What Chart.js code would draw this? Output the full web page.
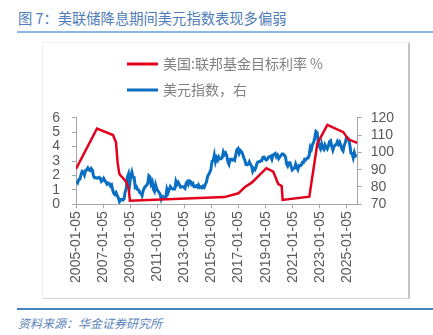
<!DOCTYPE html>
<html>
<head>
<meta charset="utf-8">
<script src="https://cdn.jsdelivr.net/npm/chart.js@4.4.1/dist/chart.umd.min.js"></script>
<style>
  body{margin:0;width:433px;height:335px;background:#fff;position:relative;overflow:hidden;font-family:"Noto Sans CJK SC","Liberation Sans",sans-serif;}
  #title{position:absolute;left:18px;top:8px;font-size:14.3px;line-height:20px;color:#4f7db9;white-space:nowrap;}
  #titleRule{position:absolute;left:17px;top:31px;width:416px;height:2px;background:#8ab8e2;}
  #box{position:absolute;left:42px;top:42px;width:365px;height:255px;border-left:1px solid #f2f2f2;border-top:1px solid #f2f2f2;border-right:2px solid #c4c4c4;border-bottom:1px solid #d6d6d6;}
  #chart{position:absolute;left:42px;top:42px;}
  #footRule{position:absolute;left:17px;top:308px;width:416px;height:2px;background:#4385c4;}
  #source{position:absolute;left:18px;top:314px;font-size:12px;line-height:18px;font-style:italic;color:#5a84bb;white-space:nowrap;}
</style>
</head>
<body>
<div id="title">图 7：美联储降息期间美元指数表现多偏弱</div>
<div id="titleRule"></div>
<div id="box"></div>
<canvas id="chart" width="366" height="256"></canvas>
<div id="footRule"></div>
<div id="source">资料来源：华金证券研究所</div>
<script>
// ── Data ──
const xTickYears = [2005, 2007, 2009, 2011, 2013, 2015, 2017, 2019, 2021, 2023, 2025];

// Fed funds target rate (%), left axis
const fedDates = [2005.0, 2006.55, 2007.73, 2007.95, 2008.07, 2008.2, 2008.7, 2008.88, 2008.98,
  2015.95, 2016.98, 2017.47, 2017.97, 2019.05, 2019.56, 2019.93, 2020.18, 2020.25,
  2022.22, 2022.81, 2023.55, 2024.73, 2025.1, 2025.75];
const fedRate = [2.45, 5.25, 4.8, 4.3, 2.9, 2.1, 1.57, 1.1, 0.25,
  0.5, 0.76, 1.2, 1.5, 2.5, 2.26, 1.4, 1.27, 0.3,
  0.53, 4.2, 5.5, 5.0, 4.5, 4.25];

// US dollar index, monthly from 2005-01, right axis
const dxyStartYear = 2005;
const dxy = [
  83.5, 82.5, 84.3, 84.5, 87.3, 89.1, 88.7, 87.0, 89.5, 89.9, 91.0, 89.8,
  89.5, 90.7, 89.8, 86.4, 85.3, 85.4, 85.1, 85.2, 85.6, 85.1, 83.2, 83.7,
  84.9, 83.7, 82.9, 81.6, 82.3, 82.0, 80.6, 81.2, 78.2, 76.3, 75.6, 76.7,
  75.1, 73.8, 71.6, 72.9, 72.8, 72.4, 73.0, 77.1, 79.0, 85.7, 87.5, 81.4,
  86.3, 88.6, 85.6, 85.5, 79.7, 80.2, 78.5, 78.3, 76.7, 76.5, 74.9, 77.9,
  79.5, 80.3, 81.0, 81.9, 86.5, 85.8, 81.8, 83.1, 78.7, 77.5, 81.2, 79.0,
  77.7, 76.9, 75.8, 73.0, 74.6, 74.3, 74.1, 74.1, 78.6, 76.6, 78.4, 80.2,
  79.3, 78.9, 79.0, 78.9, 83.3, 81.6, 82.7, 81.5, 79.9, 80.1, 80.2, 79.8,
  79.2, 82.1, 83.0, 81.5, 83.5, 83.1, 81.5, 82.1, 80.2, 80.2, 80.7, 80.0,
  81.2, 79.7, 80.1, 79.5, 80.4, 79.8, 81.5, 82.8, 86.0, 87.2, 88.4, 90.3,
  94.8, 95.3, 98.4, 94.6, 96.9, 95.5, 97.3, 96.2, 96.3, 97.0, 100.2, 98.7,
  99.6, 98.2, 94.6, 93.1, 95.9, 96.1, 95.5, 96.0, 95.4, 98.5, 101.5, 102.2,
  99.5, 101.1, 100.4, 99.1, 97.0, 95.6, 92.9, 92.7, 93.1, 94.6, 93.1, 92.1,
  89.1, 90.6, 90.0, 91.8, 94.0, 94.5, 94.5, 95.1, 95.1, 97.1, 97.3, 96.2,
  95.6, 96.2, 97.3, 97.5, 97.8, 96.1, 98.5, 98.9, 99.4, 97.4, 98.3, 96.4,
  97.4, 98.1, 99.0, 99.0, 98.3, 97.4, 93.4, 92.1, 93.9, 94.0, 91.9, 89.9,
  90.6, 90.9, 93.2, 91.3, 90.0, 92.4, 92.2, 92.6, 94.2, 94.1, 96.0, 95.7,
  96.5, 96.7, 98.3, 103.0, 101.8, 104.7, 105.9, 108.7, 112.1, 111.5, 105.9, 103.5,
  102.1, 104.9, 102.5, 101.7, 104.3, 102.9, 101.9, 103.6, 106.2, 106.7, 103.5, 101.3,
  103.3, 104.2, 104.5, 106.2, 104.7, 105.9, 104.1, 101.7, 100.8, 104.0, 105.7, 108.5,
  108.4, 107.6, 104.2, 99.5, 99.3, 96.9, 99.9, 97.8, 97.4
];

const leftTicks = [0, 1, 2, 3, 4, 5, 6];
const rightTicks = [70, 80, 90, 100, 110, 120];

const seriesNames = ['美国:联邦基金目标利率 %', '美元指数，右'];
const seriesColors = ['#e3001b', '#0a6fc2'];

// ── Chart ──
const axisGray = '#a6a6a6';
const labelGray = '#595959';
const tickFont = { family: '"Liberation Sans", Arial, sans-serif', size: 14 };

const fedPoints = fedDates.map((d, i) => ({ x: d, y: fedRate[i] }));
const dxyPoints = dxy.map((v, i) => ({ x: dxyStartYear + (i + 0.5) / 12, y: v }));

// legend drawn top-left inside the box, lines stacked
const stackLegend = {
  id: 'stackLegend',
  afterDraw(chart){
    const ctx = chart.ctx;
    ctx.save();
    chart.data.datasets.forEach((ds, i) => {
      const y = 22 + i * 26;
      ctx.strokeStyle = ds.borderColor;
      ctx.lineWidth = 3;
      ctx.beginPath();
      ctx.moveTo(85, y);
      ctx.lineTo(116, y);
      ctx.stroke();
      ctx.fillStyle = '#808080';
      ctx.font = '14px "Noto Sans CJK SC", sans-serif';
      ctx.textBaseline = 'middle';
      ctx.fillText(ds.label, 121, y);
    });
    ctx.restore();
  }
};

new Chart(document.getElementById('chart'), {
  type: 'line',
  data: {
    datasets: [{
      label: seriesNames[0],
      data: fedPoints,
      borderColor: seriesColors[0],
      borderWidth: 2.5,
      pointRadius: 0,
      tension: 0,
      yAxisID: 'y'
    }, {
      label: seriesNames[1],
      data: dxyPoints,
      borderColor: seriesColors[1],
      borderWidth: 3,
      pointRadius: 0,
      tension: 0,
      yAxisID: 'y1'
    }]
  },
  options: {
    responsive: false,
    animation: false,
    devicePixelRatio: 1,
    layout: { padding: { top: 75.7, left: 0, right: 0, bottom: 0 } },
    plugins: {
      legend: { display: false },
      tooltip: { enabled: false }
    },
    scales: {
      x: {
        type: 'linear',
        min: 2005,
        max: 2025.79,
        afterBuildTicks: s => { s.ticks = xTickYears.map(v => ({ value: v })); },
        afterFit: s => { s.height = 93.7; },
        border: { color: axisGray, width: 1 },
        grid: { drawOnChartArea: false, drawTicks: true, tickLength: 4, color: axisGray },
        ticks: {
          autoSkip: false,
          minRotation: 90,
          maxRotation: 90,
          padding: 3,
          color: labelGray,
          font: tickFont,
          callback: v => v + '-01-05'
        }
      },
      y: {
        position: 'left',
        min: 0,
        max: 6,
        afterBuildTicks: s => { s.ticks = leftTicks.map(v => ({ value: v })); },
        afterFit: s => { s.width = 34; },
        border: { color: axisGray, width: 1 },
        grid: { drawOnChartArea: false, drawTicks: true, tickLength: 4, color: axisGray },
        ticks: { autoSkip: false, padding: 12, color: labelGray, font: tickFont }
      },
      y1: {
        position: 'right',
        min: 70,
        max: 120,
        afterBuildTicks: s => { s.ticks = rightTicks.map(v => ({ value: v })); },
        afterFit: s => { s.width = 50.3; },
        border: { color: axisGray, width: 1 },
        grid: { drawOnChartArea: false, drawTicks: true, tickLength: 4, color: axisGray },
        ticks: { autoSkip: false, padding: 9, color: labelGray, font: tickFont }
      }
    }
  },
  plugins: [stackLegend]
});
</script>
</body>
</html>
